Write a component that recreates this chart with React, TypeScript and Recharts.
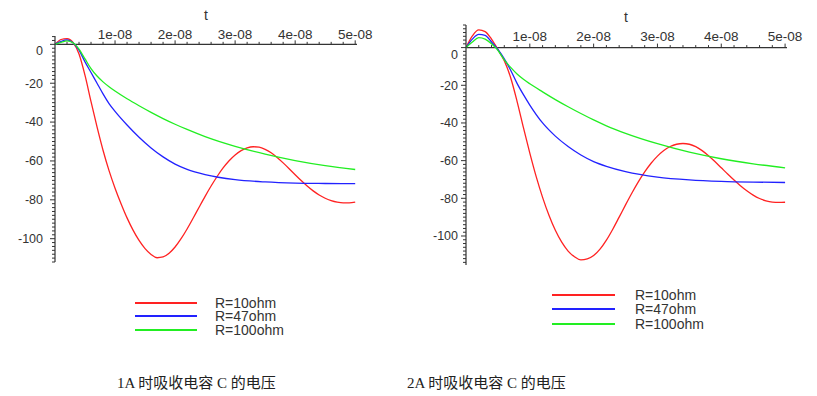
import React from "react"
import { LineChart, Line, XAxis, YAxis, ReferenceLine, ReferenceDot } from "recharts"

// time axis in ns (10 ns = 1e-08 s)
const redTime = [
  0, 1, 2, 3, 4, 5, 6, 7, 8, 9, 10, 11, 12, 13, 14, 15, 16, 17, 18, 19, 20, 21, 22, 23, 24, 25,
  26, 27, 28, 29, 30, 31, 32, 33, 34, 35, 36, 37, 38, 39, 40, 41, 42, 43, 44, 45, 46, 47, 48, 49, 50,
]
const smoothTime = [0, 1, 2, 3, 4, 5, 6, 7, 8, 9, 10, 12, 14, 16, 18, 20, 22, 25, 30, 35, 40, 45, 50]

// 1A
const red1A = [
  0, 2.5, 3, 1, -5, -16, -29.5, -42.5, -54.5, -65, -74, -82, -89.3, -95.6, -100.9, -105.1, -108.1,
  -109.8, -109.4, -107.5, -104.3, -100, -95, -89.5, -83.8, -78.2, -72.9, -68, -63.6, -59.9, -56.9,
  -54.7, -53.3, -52.7, -52.9, -54, -55.8, -58.2, -61, -64, -67.1, -70.1, -72.9, -75.4, -77.5, -79.2,
  -80.4, -81.2, -81.6, -81.6, -81.2,
]
const blue1A = [
  0, 1.5, 2.3, 0.8, -3, -9, -14.5, -20, -25.5, -30.5, -34.5, -41.5, -47.8, -53.3, -57.9, -61.6,
  -64.3, -67, -69.6, -70.8, -71.4, -71.6, -71.7,
]
const green1A = [
  0, 1, 1.8, 0.8, -2.5, -7.5, -12.5, -16.3, -19.3, -21.8, -24, -28, -31.6, -35, -38.2, -41.1, -43.8,
  -47.5, -52.5, -56.5, -59.8, -62.4, -64.4,
]

// 2A
const red2A = [
  0, 6.2, 9.4, 8.5, 4.5, -1, -7, -16, -28.5, -42.5, -56, -68.5, -79.5, -89, -97, -103.3, -108, -111,
  -112.7, -112.2, -110.4, -107, -102.2, -96.4, -90, -83.5, -77.2, -71.3, -66, -61.4, -57.6, -54.6,
  -52.5, -51.3, -50.9, -51.3, -52.6, -54.7, -57.4, -60.5, -63.8, -67.1, -70.3, -73.3, -76, -78.3,
  -80.1, -81.3, -82, -82.2, -82.1,
]
const blue2A = [
  0, 4.5, 7, 6.5, 3, -1, -6, -12, -19, -25, -30.5, -40, -47, -52.5, -57, -60.5, -63, -65.8, -68.7,
  -70.2, -71, -71.4, -71.6,
]
const green2A = [
  0, 3, 5.3, 4.5, 2, -1.5, -6.5, -10.5, -14, -16.8, -19.2, -23.5, -27.6, -31.4, -35, -38.4, -41.5,
  -45.5, -51, -55.5, -59, -61.7, -63.8,
]

const seriesNames = ["R=10ohm", "R=47ohm", "R=100ohm"]
const seriesColors = ["#ff2222", "#2222ff", "#22ee22"]

const xTickValues = [10, 20, 30, 40, 50]
const xTickLabels = ["1e-08", "2e-08", "3e-08", "4e-08", "5e-08"]
const yTickValues = [0, -20, -40, -60, -80, -100]
const yTickLabels = ["0", "-20", "-40", "-60", "-80", "-100"]

const captions = ["1A 时吸收电容 C 的电压", "2A 时吸收电容 C 的电压"]

const axisColor = "#333"
const sans = '"Liberation Sans", Arial, sans-serif'

const toPoints = (ts: number[], vs: number[]) => ts.map((t, i) => ({ t, v: vs[i] }))

interface PanelProps {
  left: number
  width: number
  height: number
  margin: { top: number; left: number; right: number; bottom: number }
  yDomain: [number, number]
  xMax: number
  labelGap: number
  zeroDy: number
  xLabelUp: number
  tPos: [number, number]
  legendPos: [number, number, number]
  legendRows: number[]
  caption: string
  captionX: number
  series: number[][]
}

function Panel(p: PanelProps) {
  const data = [
    toPoints(redTime, p.series[0]),
    toPoints(smoothTime, p.series[1]),
    toPoints(smoothTime, p.series[2]),
  ]
  const minorX = Array.from({ length: 25 }, (_, i) => (i + 1) * 2)
  const yTicks: number[] = []
  for (let v = Math.ceil(p.yDomain[0] / 2) * 2; v <= p.yDomain[1]; v += 2) yTicks.push(v)

  const YTick = (props: any) => {
    const { x, y, payload } = props
    const idx = yTickValues.indexOf(payload.value)
    const major = idx >= 0
    return (
      <g>
        <line x1={x - (major ? 5 : 3)} x2={x} y1={y} y2={y} stroke={axisColor} strokeWidth={1} />
        {major && (
          <text
            x={x - p.labelGap}
            y={y + (payload.value === 0 ? p.zeroDy : 0)}
            dy="0.35em"
            textAnchor="end"
            fontSize={12.5}
            fontFamily={sans}
            fill={axisColor}
          >
            {yTickLabels[idx]}
          </text>
        )}
      </g>
    )
  }

  return (
    <>
      <div style={{ position: "absolute", left: p.left, top: 0 }}>
        <LineChart width={p.width} height={p.height} margin={p.margin}>
          <XAxis type="number" dataKey="t" domain={[0, p.xMax]} allowDataOverflow hide />
          <YAxis
            type="number"
            dataKey="v"
            domain={p.yDomain}
            allowDataOverflow
            width={40}
            ticks={yTicks}
            interval={0}
            tickSize={0}
            tickMargin={0}
            tickLine={false}
            axisLine={{ stroke: axisColor, strokeWidth: 1.2 }}
            tick={YTick}
          />
          <ReferenceLine y={0} stroke={axisColor} strokeWidth={1.2} />
          {minorX.map((t) => {
            const idx = xTickValues.indexOf(t)
            return (
              <ReferenceDot
                key={t}
                x={t}
                y={0}
                r={0}
                shape={(s: any) => (
                  <g>
                    <line
                      x1={s.cx}
                      x2={s.cx}
                      y1={s.cy}
                      y2={s.cy - (idx >= 0 ? 4 : 2.5)}
                      stroke={axisColor}
                      strokeWidth={1}
                    />
                    {idx >= 0 && (
                      <text
                        x={s.cx}
                        y={s.cy - p.xLabelUp}
                        dy="0.35em"
                        textAnchor="middle"
                        fontSize={13.5}
                        fontFamily={sans}
                        fill={axisColor}
                      >
                        {xTickLabels[idx]}
                      </text>
                    )}
                  </g>
                )}
              />
            )
          })}
          {data.map((d, i) => (
            <Line
              key={seriesNames[i]}
              data={d}
              dataKey="v"
              type="monotone"
              stroke={seriesColors[i]}
              strokeWidth={1.3}
              dot={false}
              isAnimationActive={false}
            />
          ))}
        </LineChart>
      </div>
      <div
        style={{
          position: "absolute",
          left: p.tPos[0] - 10,
          top: p.tPos[1] - 8,
          width: 20,
          textAlign: "center",
          fontFamily: sans,
          fontSize: 14,
          lineHeight: "16px",
          color: axisColor,
        }}
      >
        t
      </div>
      {seriesNames.map((name, i) => (
        <React.Fragment key={name}>
          <div
            style={{
              position: "absolute",
              left: p.legendPos[0],
              top: p.legendRows[i] - 0.75,
              width: p.legendPos[1] - p.legendPos[0],
              height: 1.5,
              background: seriesColors[i],
            }}
          />
          <div
            style={{
              position: "absolute",
              left: p.legendPos[2],
              top: p.legendRows[i] - 6,
              fontFamily: sans,
              fontSize: 14,
              lineHeight: "12px",
              color: axisColor,
              whiteSpace: "nowrap",
            }}
          >
            {name}
          </div>
        </React.Fragment>
      ))}
      <div
        style={{
          position: "absolute",
          left: p.captionX,
          top: 373,
          fontFamily: '"Liberation Serif", "Times New Roman", "Noto Sans CJK SC", serif',
          fontSize: 15,
          lineHeight: "20px",
          color: "#222",
          whiteSpace: "nowrap",
        }}
      >
        {p.caption}
      </div>
    </>
  )
}

export default function App() {
  return (
    <div
      style={{
        position: "absolute",
        left: 0,
        top: 0,
        width: 817,
        height: 396,
        background: "#fff",
        overflow: "hidden",
      }}
    >
      <Panel
        left={0}
        width={410}
        height={300}
        margin={{ top: 36, left: 15, right: 53, bottom: 38 }}
        yDomain={[-112, 4.3]}
        xMax={50.3}
        labelGap={12}
        zeroDy={6}
        xLabelUp={10}
        tPos={[206, 15]}
        legendPos={[135, 197, 215]}
        legendRows={[303, 316, 330]}
        caption={captions[0]}
        captionX={117}
        series={[red1A, blue1A, green1A]}
      />
      <Panel
        left={410}
        width={407}
        height={300}
        margin={{ top: 25, left: 16, right: 30, bottom: 35 }}
        yDomain={[-115.4, 12]}
        xMax={50.3}
        labelGap={8}
        zeroDy={7.5}
        xLabelUp={11.5}
        tPos={[626, 17]}
        legendPos={[552, 615, 635]}
        legendRows={[295, 309, 324]}
        caption={captions[1]}
        captionX={407}
        series={[red2A, blue2A, green2A]}
      />
    </div>
  )
}
